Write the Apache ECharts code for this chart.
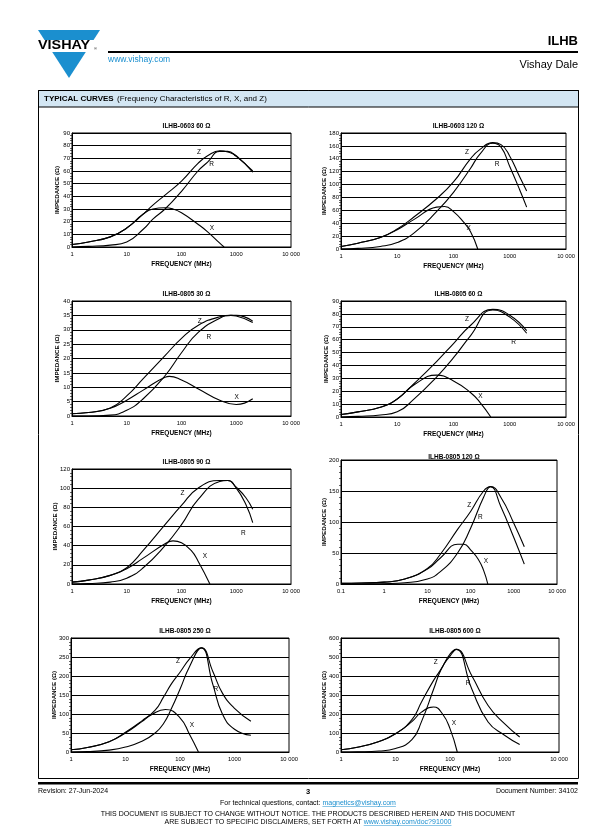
<!DOCTYPE html>
<html><head><meta charset="utf-8">
<script src="https://cdn.jsdelivr.net/npm/echarts@6/dist/echarts.min.js"></script>
<style>html,body{margin:0;padding:0;background:#fff}#c{width:615px;height:837px}</style>
</head><body><div id="c"></div><script>
// ---------- data ----------
const chartTitles = ['ILHB-0603 60 Ω','ILHB-0603 120 Ω','ILHB-0805 30 Ω','ILHB-0805 60 Ω','ILHB-0805 90 Ω','ILHB-0805 120 Ω','ILHB-0805 250 Ω','ILHB-0805 600 Ω'];
const yMax  = [90, 180, 40, 90, 120, 200, 300, 600];
const yStep = [10, 20, 5, 10, 20, 50, 50, 100];
const xMin  = [1, 1, 1, 1, 1, 0.1, 1, 1];
const xMax  = 10000;

const c1Freq = [1, 2, 5, 10, 20, 30, 50, 100, 200, 300, 500, 700, 1000, 2000];
const c1Z    = [2, 4, 8, 15, 26, 33, 41, 52, 66, 72, 76, 75, 72, 59];
const c1R    = [0, 0.5, 1.5, 4, 14, 22, 30, 44, 60, 67, 75.5, 75.5, 71.5, 60];
const c1XFreq = [1, 2, 5, 10, 20, 30, 50, 70, 100, 200, 300, 500, 600];
const c1X     = [2, 4, 8, 15, 26, 30, 31, 30, 27, 18, 12, 3, 0];

const c2Freq = [1, 2, 5, 10, 20, 50, 100, 200, 300, 500, 700, 1000, 1500, 2000];
const c2Z    = [4, 9, 18, 31, 50, 78, 104, 140, 155, 165, 162, 144, 112, 90];
const c2R    = [0, 1, 4, 10, 25, 58, 88, 125, 148, 164, 158, 128, 92, 65];
const c2XFreq = [1, 2, 5, 10, 20, 50, 70, 100, 150, 200, 270];
const c2X     = [4, 9, 18, 30, 46, 65, 66, 58, 42, 27, 0];

const c3Freq = [1, 2, 5, 10, 20, 50, 100, 200, 500, 800, 1000, 2000];
const c3Z    = [0.8, 1.2, 2.8, 7, 13, 21, 27, 31.5, 34.5, 35, 35, 33];
const c3R    = [0, 0, 0.3, 2, 6, 14, 22, 29, 34, 35, 34.8, 32.5];
const c3XFreq = [1, 2, 5, 10, 20, 50, 60, 100, 200, 500, 1000, 2000];
const c3X     = [0.8, 1.2, 2.7, 5.5, 9, 13.5, 13.8, 12.5, 9.5, 5.5, 4, 6];

const c4Freq = [1, 2, 5, 10, 20, 50, 100, 200, 500, 1000, 2000];
const c4Z    = [2, 4, 7.5, 14, 26, 43, 57, 71, 83.5, 79, 67];
const c4R    = [0, 0.5, 1.5, 4, 14, 31, 46, 63, 83, 77.5, 65];
const c4XFreq = [1, 2, 5, 10, 20, 50, 100, 200, 300, 460];
const c4X     = [2, 4, 7.5, 14, 25, 32.5, 28, 19, 11, 0];

const c5Freq = [1, 2, 5, 10, 20, 50, 100, 200, 500, 700, 1000, 1500, 2000];
const c5Z    = [2, 4, 9, 17, 35, 62, 82, 100, 108, 108, 101, 90, 78];
const c5R    = [0, 0.5, 2, 6, 17, 40, 62, 88, 107, 108, 100, 83, 64];
const c5XFreq = [1, 2, 5, 10, 20, 50, 70, 100, 150, 200, 330];
const c5X     = [2, 4, 9, 16, 27, 42, 45, 43, 35, 24, 0];

const c6Freq = [0.1, 0.3, 1, 3, 10, 20, 50, 100, 200, 290, 500, 1000, 1750];
const c6Z    = [1, 1.5, 3, 8, 25, 48, 88, 117, 150, 157, 140, 98, 60];
const c6R    = [0, 0, 0.5, 2, 8, 20, 50, 90, 140, 157, 125, 75, 32];
const c6XFreq = [0.1, 0.3, 1, 3, 10, 20, 50, 70, 100, 150, 200, 250];
const c6X     = [1, 1.5, 3, 8, 24, 42, 64, 64, 55, 40, 22, 0];

const c7Freq = [1, 2, 5, 10, 20, 35, 50, 70, 100, 150, 245, 400, 600, 1000, 2000];
const c7Z    = [6, 12, 27, 52, 82, 110, 145, 180, 210, 245, 274, 212, 155, 115, 81];
const c7R    = [0, 1, 5, 13, 28, 50, 75, 115, 165, 225, 274, 178, 100, 60, 44];
const c7XFreq = [1, 2, 5, 10, 20, 30, 54, 100, 150, 218];
const c7X     = [6, 12, 27, 50, 80, 98, 112, 90, 46, 0];

const c8Freq = [1, 2, 5, 10, 20, 30, 50, 70, 100, 130, 250, 500, 1000, 1900];
const c8Z    = [12, 25, 55, 96, 170, 263, 377, 440, 515, 540, 403, 245, 149, 79];
const c8R    = [0, 1, 5, 18, 65, 160, 330, 440, 505, 540, 333, 158, 88, 39];
const c8XFreq = [1, 2, 5, 10, 20, 30, 50, 73, 100, 136];
const c8X     = [12, 25, 55, 96, 160, 210, 237, 200, 123, 0];

// ---------- layout ----------
const charts = [
  {f:c1Freq, z:c1Z, r:c1R, xf:c1XFreq, x:c1X},
  {f:c2Freq, z:c2Z, r:c2R, xf:c2XFreq, x:c2X},
  {f:c3Freq, z:c3Z, r:c3R, xf:c3XFreq, x:c3X},
  {f:c4Freq, z:c4Z, r:c4R, xf:c4XFreq, x:c4X},
  {f:c5Freq, z:c5Z, r:c5R, xf:c5XFreq, x:c5X},
  {f:c6Freq, z:c6Z, r:c6R, xf:c6XFreq, x:c6X},
  {f:c7Freq, z:c7Z, r:c7R, xf:c7XFreq, x:c7X},
  {f:c8Freq, z:c8Z, r:c8R, xf:c8XFreq, x:c8X}
];
const grids = [
  {left:72, top:133, width:219, height:114},
  {left:341, top:133, width:225, height:116},
  {left:72, top:301, width:219, height:115},
  {left:341, top:301, width:225, height:116},
  {left:72, top:469, width:219, height:115},
  {left:341, top:460, width:216, height:124},
  {left:71, top:638, width:218, height:114},
  {left:341, top:638, width:218, height:114}
];
const curveLabels = [
  {Z:[209,75], R:[355,65], X:[359,15]},
  {Z:[174,150], R:[593,131], X:[186,32]},
  {Z:[216,33], R:[316,27.5], X:[1015,6.7]},
  {Z:[174,75.7], R:[1174,58], X:[300,16]},
  {Z:[104,95], R:[1342,53], X:[267,28.6]},
  {Z:[93,127], R:[168,108], X:[227,36]},
  {Z:[92,238], R:[454,165], X:[165,70]},
  {Z:[55,474], R:[215,360], X:[118,153]}
];

const FONT = 'Liberation Sans, Arial, sans-serif';
const NARROW = '"Liberation Sans Narrow", "Arial Narrow", "Liberation Sans", sans-serif';
const option = {
  animation:false,
  backgroundColor:'#fff',
  title:[], grid:[], xAxis:[], yAxis:[], series:[], graphic:[]
};

function xfmt(v){
  const r = Math.round(v*10)/10;
  return r >= 10000 ? '10 000' : String(r);
}
function mk(name, coord){
  return {symbol:'circle', symbolSize:0, silent:true,
    label:{show:true, position:'inside', formatter:name, color:'#000', fontSize:6.5, fontFamily:FONT},
    data:[{name:name, coord:coord}]};
}

charts.forEach((c,i)=>{
  const g = grids[i];
  option.grid.push({left:g.left, top:g.top, width:g.width, height:g.height, show:true, borderColor:'#000', borderWidth:1, backgroundColor:'transparent'});
  option.title.push({text:chartTitles[i], left:g.left + g.width/2, top:g.top - (i===5?11:15), textAlign:'center',
    textStyle:{fontSize:6.5, fontWeight:'bold', color:'#000', fontFamily:FONT}});
  option.xAxis.push({type:'log', logBase:10, gridIndex:i, min:xMin[i], max:xMax,
    axisLine:{show:true, lineStyle:{color:'#000', width:1}}, axisTick:{show:false},
    splitLine:{show:false}, minorTick:{show:false},
    axisLabel:{fontSize:5.8, color:'#000', margin:4, fontFamily:FONT, formatter:xfmt, showMinLabel:true, showMaxLabel:true},
    name:'FREQUENCY (MHz)', nameLocation:'middle', nameGap:14, nameMoveOverlap:false,
    nameTextStyle:{fontSize:6.5, fontWeight:'bold', color:'#000', fontFamily:FONT}});
  option.yAxis.push({type:'value', gridIndex:i, min:0, max:yMax[i], interval:yStep[i],
    axisLine:{show:true, lineStyle:{color:'#000', width:1}}, axisTick:{show:false},
    minorTick:{show:true, splitNumber:5, length:2, lineStyle:{color:'#000', width:0.6}},
    splitLine:{show:true, lineStyle:{color:'#000', width:1}},
    axisLabel:{fontSize:6, color:'#000', margin:2, fontFamily:NARROW},
    name:'IMPEDANCE (Ω)', nameLocation:'middle', nameGap:(yMax[i] >= 100 ? 13.5 : 12), nameRotate:90, nameMoveOverlap:false,
    nameTextStyle:{fontSize:6.2, fontWeight:'bold', color:'#000', fontFamily:FONT}});
  const base = {type:'line', xAxisIndex:i, yAxisIndex:i, smooth:0.5, showSymbol:false, symbol:'none',
    lineStyle:{color:'#000', width:1.1}, silent:true, z:5};
  const L = curveLabels[i];
  option.series.push(Object.assign({}, base, {name:'Z'+i, data:c.f.map((f,k)=>[f,c.z[k]]), markPoint:mk('Z',L.Z)}));
  option.series.push(Object.assign({}, base, {name:'R'+i, data:c.f.map((f,k)=>[f,c.r[k]]), markPoint:mk('R',L.R)}));
  option.series.push(Object.assign({}, base, {name:'X'+i, data:c.xf.map((f,k)=>[f,c.x[k]]), markPoint:mk('X',L.X)}));
});

// text measuring for link underlines
const mctx = document.createElement('canvas').getContext('2d');
function tw(txt, font){ mctx.font = font; return mctx.measureText(txt).width; }
const F7 = '7px Liberation Sans';
const l1a = 'For technical questions, contact: ', l1b = 'magnetics@vishay.com';
const l3a = 'ARE SUBJECT TO SPECIFIC DISCLAIMERS, SET FORTH AT ', l3b = 'www.vishay.com/doc?91000';
const w1a = tw(l1a, F7), w1b = tw(l1b, F7);
const w3a = tw(l3a, F7), w3b = tw(l3b, F7);
const cx = 308;
const u1x = cx - (w1a + w1b)/2 + w1a;
const u3x = cx - (w3a + w3b)/2 + w3a;

const BLUE = '#1b8fcf';
option.graphic = [
  // logo
  {type:'polygon', shape:{points:[[38,30],[100,30],[69,78]]}, style:{fill:BLUE}},
  {type:'rect', shape:{x:34, y:40, width:70, height:12}, style:{fill:'#fff'}},
  {type:'text', x:38, y:46, style:{text:'VISHAY', font:'bold 12.5px '+FONT, fill:'#000', verticalAlign:'middle'}, scaleX:1.15},
  {type:'text', x:94, y:49, style:{text:'®', font:'4px '+FONT, fill:'#000', verticalAlign:'middle'}},
  // header line
  {type:'rect', shape:{x:108, y:51, width:470, height:2}, style:{fill:'#000'}},
  {type:'text', x:108, y:60, style:{text:'www.vishay.com', font:'8.5px '+FONT, fill:BLUE, verticalAlign:'middle'}},
  {type:'text', x:578, y:41, style:{text:'ILHB', font:'bold 13px '+FONT, fill:'#000', align:'right', verticalAlign:'middle'}},
  {type:'text', x:578, y:65, style:{text:'Vishay Dale', font:'11px '+FONT, fill:'#000', align:'right', verticalAlign:'middle'}},
  // main box
  {type:'rect', shape:{x:38.5, y:90.5, width:540, height:16.5}, style:{fill:'#d3e6f3', stroke:'#000', lineWidth:1}},
  {type:'rect', shape:{x:38.5, y:90.5, width:540, height:688}, style:{fill:'none', stroke:'#000', lineWidth:1}},
  {type:'text', x:44, y:99, style:{text:'{b|TYPICAL CURVES} {n|(Frequency Characteristics of R, X, and Z)}', verticalAlign:'middle',
    rich:{b:{font:'bold 8px '+FONT, fill:'#000'}, n:{font:'8px '+FONT, fill:'#000'}}}},
  // footer
  {type:'rect', shape:{x:38, y:782, width:540, height:2.5}, style:{fill:'#000'}},
  {type:'text', x:38, y:791, style:{text:'Revision: 27-Jun-2024', font:'7px '+FONT, fill:'#000', verticalAlign:'middle'}},
  {type:'text', x:308, y:792, style:{text:'3', font:'bold 7.5px '+FONT, fill:'#000', align:'center', verticalAlign:'middle'}},
  {type:'text', x:578, y:791, style:{text:'Document Number: 34102', font:'7px '+FONT, fill:'#000', align:'right', verticalAlign:'middle'}},
  {type:'text', x:cx, y:803, style:{text:'{n|'+l1a+'}{u|'+l1b+'}', align:'center', verticalAlign:'middle',
    rich:{n:{font:'7px '+FONT, fill:'#000'}, u:{font:'7px '+FONT, fill:BLUE}}}},
  {type:'rect', shape:{x:u1x, y:806.5, width:w1b, height:0.6}, style:{fill:BLUE}},
  {type:'text', x:cx, y:814, style:{text:'THIS DOCUMENT IS SUBJECT TO CHANGE WITHOUT NOTICE. THE PRODUCTS DESCRIBED HEREIN AND THIS DOCUMENT', font:'7px '+FONT, fill:'#000', align:'center', verticalAlign:'middle'}},
  {type:'text', x:cx, y:822, style:{text:'{n|'+l3a+'}{u|'+l3b+'}', align:'center', verticalAlign:'middle',
    rich:{n:{font:'7px '+FONT, fill:'#000'}, u:{font:'7px '+FONT, fill:BLUE}}}},
  {type:'rect', shape:{x:u3x, y:825.5, width:w3b, height:0.6}, style:{fill:BLUE}}
];

const chart = echarts.init(document.getElementById('c'), null, {renderer:'canvas'});
chart.setOption(option);
</script></body></html>
